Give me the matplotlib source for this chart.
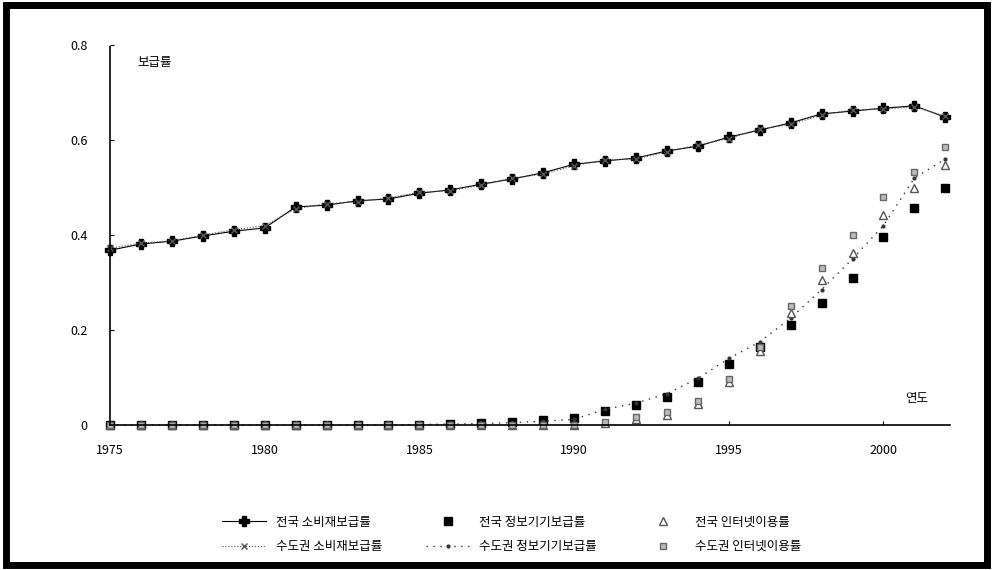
import matplotlib.pyplot as plt
from matplotlib.patches import Rectangle

plt.rcParams['font.family'] = ['Noto Sans CJK KR', 'DejaVu Sans']

years = list(range(1975, 2003))

# 전국 소비재보급률 (solid line, plus markers)
series_a = [0.368, 0.381, 0.387, 0.398, 0.408, 0.415, 0.459, 0.463, 0.472, 0.476,
            0.488, 0.495, 0.507, 0.518, 0.531, 0.549, 0.556, 0.562, 0.577, 0.587,
            0.606, 0.621, 0.636, 0.655, 0.661, 0.667, 0.672, 0.648]
# 수도권 소비재보급률
series_d = [0.372, 0.383, 0.388, 0.400, 0.411, 0.420, 0.455, 0.466, 0.470, 0.478,
            0.490, 0.493, 0.505, 0.520, 0.528, 0.546, 0.558, 0.560, 0.575, 0.590,
            0.603, 0.623, 0.633, 0.652, 0.664, 0.665, 0.670, 0.650]
# 전국 정보기기보급률 (filled squares)
series_b = [0, 0, 0, 0, 0, 0, 0, 0, 0, 0,
            0.001, 0.002, 0.004, 0.007, 0.010, 0.015, 0.029, 0.042, 0.059, 0.091,
            0.128, 0.164, 0.211, 0.257, 0.309, 0.396, 0.457, 0.499]
# 수도권 정보기기보급률
series_e = [0, 0, 0, 0, 0, 0, 0, 0, 0, 0,
            0.001, 0.002, 0.003, 0.005, 0.008, 0.012, 0.033, 0.046, 0.066, 0.098,
            0.140, 0.175, 0.225, 0.285, 0.350, 0.420, 0.520, 0.560]
# 전국 인터넷이용률 (triangles)
series_c = [0, 0, 0, 0, 0, 0, 0, 0, 0, 0,
            0, 0, 0, 0, 0, 0, 0.005, 0.012, 0.022, 0.045,
            0.090, 0.155, 0.235, 0.305, 0.362, 0.442, 0.500, 0.547]
# 수도권 인터넷이용률
series_f = [0, 0, 0, 0, 0, 0, 0, 0, 0, 0,
            0, 0, 0, 0, 0, 0, 0.007, 0.016, 0.027, 0.050,
            0.097, 0.165, 0.250, 0.330, 0.400, 0.480, 0.533, 0.585]

labels = ['전국 소비재보급률', '수도권 소비재보급률',
          '전국 정보기기보급률', '수도권 정보기기보급률',
          '전국 인터넷이용률', '수도권 인터넷이용률']

fig = plt.figure(figsize=(9.93, 5.70), dpi=100)
ax = fig.add_axes([0.1108, 0.2544, 0.8459, 0.6666])

la, = ax.plot(years, series_a, color='black', lw=0.8, marker='P', ms=7, clip_on=False)
ld, = ax.plot(years, series_d, color='#555555', lw=0.8, ls=':', marker='x', ms=4, clip_on=False)
lb, = ax.plot(years, series_b, color='black', lw=0, marker='s', ms=6, clip_on=False)
le, = ax.plot(years, series_e, color='#333333', lw=1.0, ls=(0, (1, 4)), marker='.', ms=4, clip_on=False)
lc, = ax.plot(years, series_c, color='#777777', lw=0, marker='^', ms=6, mfc='white',
              mec='#555555', clip_on=False)
lf, = ax.plot(years, series_f, color='#888888', lw=0, marker='s', ms=5, mfc='#bbbbbb',
              mec='#666666', clip_on=False)

ax.set_xlim(1975, 2002.15)
ax.set_ylim(0, 0.8)
ax.set_xticks([1975, 1980, 1985, 1990, 1995, 2000])
ax.set_yticks([0, 0.2, 0.4, 0.6, 0.8])
ax.set_yticklabels(['0', '0.2', '0.4', '0.6', '0.8'])
ax.tick_params(direction='in', length=3, labelsize=9)
ax.tick_params(axis='y', pad=16)
ax.tick_params(axis='x', pad=14)
for s in ['top', 'right']:
    ax.spines[s].set_visible(False)
for s in ['left', 'bottom']:
    ax.spines[s].set_linestyle((0, (1, 1)))
    ax.spines[s].set_linewidth(1.2)

ax.text(0.033, 0.97, '보급률', transform=ax.transAxes, fontsize=9, va='top')
ax.text(0.96, 0.06, '연도', transform=ax.transAxes, fontsize=9, ha='center')

fig.legend([la, ld, lb, le, lc, lf], labels, ncol=3, loc='lower center',
           bbox_to_anchor=(0.515, 0.01), frameon=False, fontsize=9,
           columnspacing=3.5, handlelength=3.5, labelspacing=0.9)

fig.patches.append(Rectangle((0.006, 0.008), 0.988, 0.984, transform=fig.transFigure,
                             fill=False, lw=5, edgecolor='black'))

fig.savefig('out.png', dpi=100)
